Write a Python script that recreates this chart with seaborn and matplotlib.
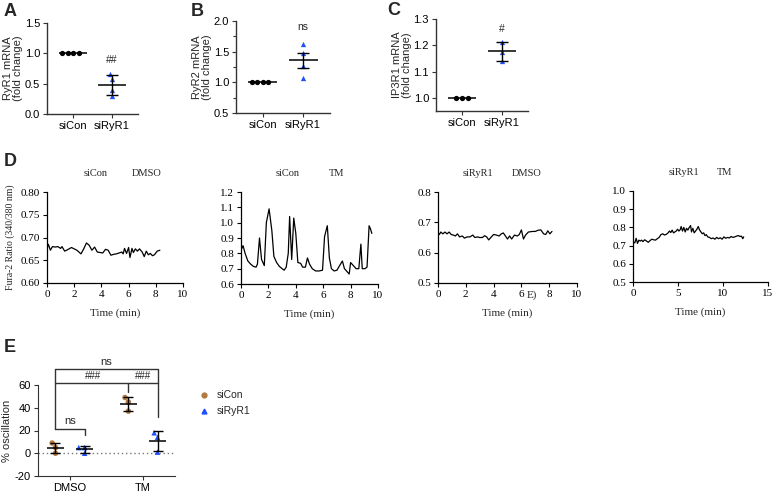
import pandas as pd
import seaborn as sns
import matplotlib.pyplot as plt
from matplotlib.lines import Line2D
from matplotlib.ticker import MultipleLocator

# ---- A-C: mRNA fold change ----
groups = ["siCon", "siRyR1"]
ryr1_sicon = [1.0, 1.0, 1.0, 1.0]
ryr1_sirna = [0.66, 0.58, 0.40, 0.30]
ryr2_sicon = [1.0, 1.0, 1.0, 1.0]
ryr2_sirna = [1.63, 1.48, 1.26, 1.07]
ip3r1_sicon = [1.0, 1.0, 1.0]
ip3r1_sirna = [1.214, 1.174, 1.142]

# ---- D: Fura-2 traces (time in min, ratio) ----
t_con_dmso = [0, 0.1, 0.25, 0.4, 0.6, 0.8, 1.0, 1.1, 1.3, 1.5, 1.8, 2.0, 2.2, 2.5, 2.7,
              2.9, 3.1, 3.3, 3.5, 3.7, 3.9, 4.1, 4.3, 4.5, 4.7, 4.9, 5.1, 5.3, 5.5, 5.6,
              5.7, 5.85, 6.0, 6.1, 6.25, 6.35, 6.5, 6.65, 6.8, 7.0, 7.15, 7.3, 7.45, 7.6,
              7.75, 7.9, 8.1, 8.3]
r_con_dmso = [0.675, 0.685, 0.672, 0.680, 0.679, 0.680, 0.676, 0.680, 0.670, 0.673, 0.678,
              0.675, 0.672, 0.664, 0.675, 0.688, 0.683, 0.672, 0.679, 0.668, 0.667, 0.666,
              0.674, 0.672, 0.661, 0.663, 0.664, 0.666, 0.668, 0.664, 0.676, 0.665, 0.678,
              0.656, 0.676, 0.667, 0.675, 0.670, 0.675, 0.668, 0.658, 0.670, 0.662, 0.665,
              0.660, 0.662, 0.670, 0.672]

t_con_tm = [0, 0.15, 0.3, 0.5, 0.7, 0.9, 1.1, 1.2, 1.35, 1.5, 1.7, 1.85, 2.05, 2.25, 2.4,
            2.6, 2.8, 3.0, 3.15, 3.3, 3.45, 3.55, 3.7, 3.85, 4.0, 4.15, 4.35, 4.5, 4.7,
            4.85, 5.0, 5.2, 5.45, 5.7, 5.95, 6.1, 6.3, 6.45, 6.6, 6.8, 7.0, 7.2, 7.4,
            7.55, 7.75, 7.9, 8.0, 8.2, 8.4, 8.6, 8.75, 8.85, 9.05, 9.2, 9.35, 9.45, 9.55]
r_con_tm = [0.82, 0.85, 0.80, 0.75, 0.73, 0.715, 0.71, 0.73, 0.90, 0.76, 0.72, 1.00, 1.09,
            0.95, 0.78, 0.74, 0.715, 0.70, 0.69, 0.71, 0.80, 1.04, 0.76, 1.03, 0.93, 0.74,
            0.735, 0.71, 0.71, 0.77, 0.73, 0.70, 0.685, 0.685, 0.69, 0.91, 0.98, 0.77,
            0.70, 0.685, 0.69, 0.72, 0.75, 0.70, 0.68, 0.665, 0.74, 0.72, 0.70, 0.70,
            0.86, 0.70, 0.70, 0.71, 0.98, 0.96, 0.93]

t_ryr_dmso = [0, 0.1, 0.2, 0.35, 0.5, 0.65, 0.8, 0.95, 1.1, 1.25, 1.4, 1.55, 1.75, 1.9,
              2.1, 2.3, 2.5, 2.65, 2.85, 3.0, 3.2, 3.35, 3.5, 3.65, 3.8, 4.0, 4.2, 4.4,
              4.55, 4.7, 4.85, 5.0, 5.15, 5.3, 5.5, 5.7, 5.85, 6.0, 6.15, 6.3, 6.5, 6.8,
              7.0, 7.2, 7.4, 7.6, 7.75, 7.9, 8.05, 8.2]
r_ryr_dmso = [0.665, 0.660, 0.668, 0.662, 0.668, 0.662, 0.668, 0.660, 0.658, 0.655, 0.662,
              0.652, 0.655, 0.648, 0.652, 0.652, 0.658, 0.650, 0.652, 0.650, 0.650, 0.656,
              0.652, 0.642, 0.650, 0.660, 0.658, 0.655, 0.662, 0.665, 0.655, 0.645, 0.655,
              0.645, 0.658, 0.655, 0.660, 0.675, 0.645, 0.658, 0.668, 0.670, 0.670, 0.674,
              0.675, 0.662, 0.660, 0.672, 0.662, 0.670]

t_ryr_tm = [0.0, 0.2, 0.35, 0.5, 0.65, 0.8, 0.95, 1.1, 1.3, 1.5, 1.7, 1.9, 2.1, 2.3, 2.5,
            2.7, 2.9, 3.1, 3.3, 3.5, 3.7, 3.9, 4.05, 4.2, 4.35, 4.5, 4.65, 4.8, 4.95, 5.1,
            5.25, 5.35, 5.5, 5.65, 5.8, 5.95, 6.1, 6.25, 6.4, 6.5, 6.65, 6.8, 6.95, 7.1,
            7.25, 7.4, 7.55, 7.7, 7.85, 8.0, 8.15, 8.3, 8.5, 8.7, 8.9, 9.1, 9.3, 9.5, 9.7,
            9.9, 10.1, 10.3, 10.5, 10.7, 10.9, 11.1, 11.3, 11.5, 11.7, 11.9, 12.05, 12.2, 12.3]
r_ryr_tm = [0.720, 0.715, 0.740, 0.712, 0.730, 0.725, 0.730, 0.722, 0.732, 0.725, 0.718,
            0.728, 0.735, 0.732, 0.730, 0.738, 0.745, 0.760, 0.765, 0.758, 0.762, 0.770,
            0.780, 0.772, 0.785, 0.770, 0.775, 0.780, 0.790, 0.780, 0.788, 0.805, 0.780,
            0.800, 0.775, 0.795, 0.785, 0.800, 0.810, 0.775, 0.795, 0.770, 0.780, 0.790,
            0.805, 0.785, 0.775, 0.765, 0.770, 0.755, 0.760, 0.748, 0.745, 0.738, 0.742,
            0.735, 0.745, 0.738, 0.743, 0.735, 0.748, 0.740, 0.745, 0.742, 0.750, 0.745,
            0.748, 0.752, 0.755, 0.750, 0.752, 0.738, 0.748]

# ---- E: % oscillation ----
treatments = ["DMSO", "TM"]
sirnas = ["siCon", "siRyR1"]
osc_sicon_dmso = [0, 5, 9]
osc_siryr1_dmso = [5, 5, 0]
osc_sicon_tm = [37, 45, 49]
osc_siryr1_tm = [1, 14, 18]

BLUE = "#1f4fff"
BROWN = "#b27b3f"
AX_COL = "#333333"
W, H = 775, 492

sns.set_style("ticks")
plt.rcParams["font.family"] = ["Liberation Sans", "DejaVu Sans"]
plt.rcParams["axes.unicode_minus"] = False
plt.rcParams["axes.edgecolor"] = AX_COL
plt.rcParams["xtick.color"] = AX_COL
plt.rcParams["ytick.color"] = AX_COL
plt.rcParams["xtick.labelcolor"] = "black"
plt.rcParams["ytick.labelcolor"] = "black"

fig = plt.figure(figsize=(W / 100, H / 100), dpi=100)


def px_axes(x0, x1, ytop, ybot):
    return fig.add_axes([x0 / W, 1 - ybot / H, (x1 - x0) / W, (ybot - ytop) / H])


def letter(x, y, s):
    fig.text(x / W, 1 - y / H, s, fontsize=13, fontweight="bold", va="top", ha="left")


def mrna_panel(ax, con, sirna, ylabel, ylim, yticks, mark, mark_y, use_sem=False):
    df = pd.DataFrame({"group": ["siCon"] * len(con) + ["siRyR1"] * len(sirna),
                       "value": con + sirna})
    sns.swarmplot(data=df[df.group == "siCon"], x="group", y="value", order=groups,
                  color="black", marker="o", size=3.8, ax=ax)
    sns.swarmplot(data=df[df.group == "siRyR1"], x="group", y="value", order=groups,
                  color=BLUE, marker="^", size=3.8, ax=ax)
    stats = df.groupby("group")["value"].agg(["mean", "std", "count"])
    for i, g in enumerate(groups):
        m = stats.loc[g, "mean"]
        err = stats.loc[g, "std"]
        if use_sem:
            err = err / stats.loc[g, "count"] ** 0.5
        ax.hlines(m, i - 0.36, i + 0.36, color="black", lw=1.1, zorder=4)
        if err > 0:
            ax.errorbar(i, m, yerr=err, color="black", lw=1.0, capsize=4.5,
                        capthick=1.0, zorder=4)
    ax.text(1, mark_y, mark, ha="center", va="center", fontsize=7.5)
    ax.set_xlim(-0.67, 1.67)
    ax.set_ylim(*ylim)
    ax.set_yticks(yticks)
    ax.set_xlabel("")
    ax.set_ylabel(ylabel, fontsize=8, labelpad=1, linespacing=1.05)
    ax.tick_params(labelsize=8, length=3, width=0.8, pad=2)
    sns.despine(ax=ax)
    for s in ax.spines.values():
        s.set_linewidth(1.0)


axA = px_axes(47, 138, 23, 114)
mrna_panel(axA, ryr1_sicon, ryr1_sirna, "RyR1 mRNA\n(fold change)", (0, 1.5),
           [0.0, 0.5, 1.0, 1.5], "##", 0.89)
axB = px_axes(236, 330, 21, 113)
mrna_panel(axB, ryr2_sicon, ryr2_sirna, "RyR2 mRNA\n(fold change)", (0.5, 2.0),
           [0.5, 1.0, 1.5, 2.0], "ns", 1.90, use_sem=True)
axB.yaxis.set_minor_locator(MultipleLocator(0.25))
axB.tick_params(which="minor", length=2, width=0.8)
axC = px_axes(436, 528, 19, 111)
mrna_panel(axC, ip3r1_sicon, ip3r1_sirna, "IP3R1 mRNA\n(fold change)", (0.95, 1.3),
           [1.0, 1.1, 1.2, 1.3], "#", 1.262)
axC.set_xlim(-0.65, 1.65)

letter(4, 3, "A")
letter(191, 3, "B")
letter(387, 2, "C")

# ---- D ----
SERIF = "Liberation Serif"
traces = [
    (t_con_dmso, r_con_dmso, (47, 183, 192, 283), (0.6, 0.8), [0.6, 0.65, 0.7, 0.75, 0.8],
     "%.2f", (0, 10), [0, 2, 4, 6, 8, 10], ("siCon", "DMSO"), (0.36, 0.73)),
    (t_con_tm, r_con_tm, (241, 378, 192, 284), (0.6, 1.2), [0.6, 0.7, 0.8, 0.9, 1.0, 1.1, 1.2],
     "%.1f", (0, 10), [0, 2, 4, 6, 8, 10], ("siCon", "TM"), (0.34, 0.70)),
    (t_ryr_dmso, r_ryr_dmso, (438, 577, 192, 283), (0.5, 0.8), [0.5, 0.6, 0.7, 0.8],
     "%.1f", (0, 10), [0, 2, 4, 6, 8, 10], ("siRyR1", "DMSO"), (0.29, 0.64)),
    (t_ryr_tm, r_ryr_tm, (633, 768, 191, 282), (0.5, 1.0), [0.5, 0.6, 0.7, 0.8, 0.9, 1.0],
     "%.1f", (0, 15), [0, 5, 10, 15], ("siRyR1", "TM"), (0.38, 0.68)),
]
for k, (t, r, box, ylim, yt, fmt, xlim, xt, title, tpos) in enumerate(traces):
    ax = px_axes(*box)
    sns.lineplot(x=t, y=r, color="black", lw=0.9, estimator=None, ax=ax)
    ax.set_xlim(*xlim)
    ax.set_ylim(*ylim)
    ax.set_xticks(xt)
    ax.set_yticks(yt)
    ax.set_yticklabels([fmt % v for v in yt])
    ax.tick_params(labelsize=8, length=3, width=0.8, pad=2, colors="black",
                   labelfontfamily=SERIF)
    for s in ax.spines.values():
        s.set_color("black")
        s.set_linewidth(0.9)
    sns.despine(ax=ax)
    ax.set_xlabel("Time (min)", fontsize=8, fontfamily=SERIF, labelpad=7)
    if k == 0:
        ax.set_ylabel("Fura-2 Ratio (340/380 nm)", fontsize=7, fontfamily=SERIF,
                      labelpad=4)
    for word, xp in zip(title, tpos):
        ax.text(xp, 1.2, word, transform=ax.transAxes, ha="center", va="center",
                fontsize=7.5, fontfamily=SERIF)

fig.text(532 / W, 1 - 295 / H, "E)", fontsize=8, fontfamily=SERIF, ha="center",
         va="center")
letter(4, 153, "D")

# ---- E ----
dfE = pd.DataFrame({
    "treatment": ["DMSO"] * 6 + ["TM"] * 6,
    "siRNA": (["siCon"] * 3 + ["siRyR1"] * 3) * 2,
    "value": osc_sicon_dmso + osc_siryr1_dmso + osc_sicon_tm + osc_siryr1_tm,
})
pal = {"siCon": BROWN, "siRyR1": BLUE}
axE = px_axes(38, 175, 385, 476)
axE.axhline(0, color="#777777", lw=1.0, ls=(0, (1, 2)), zorder=0)
sns.swarmplot(data=dfE[dfE.siRNA == "siCon"], x="treatment", y="value", hue="siRNA",
              order=treatments, hue_order=sirnas, palette=pal, dodge=True, marker="o",
              size=4, legend=False, ax=axE)
sns.swarmplot(data=dfE[dfE.siRNA == "siRyR1"], x="treatment", y="value", hue="siRNA",
              order=treatments, hue_order=sirnas, palette=pal, dodge=True, marker="^",
              size=4, legend=False, ax=axE)
statsE = dfE.groupby(["treatment", "siRNA"])["value"].agg(["mean", "std"])
offs = {"siCon": -0.2, "siRyR1": 0.2}
for i, tr in enumerate(treatments):
    for s in sirnas:
        xc = i + offs[s]
        m, sd = statsE.loc[(tr, s), "mean"], statsE.loc[(tr, s), "std"]
        axE.hlines(m, xc - 0.12, xc + 0.12, color="black", lw=1.1, zorder=4)
        axE.errorbar(xc, m, yerr=sd, color="black", lw=1.0, capsize=3.8, capthick=1.0,
                     zorder=4)

# significance brackets
x_cd, x_rd, x_ct, x_rt = -0.2, 0.2, 0.8, 1.2
bk = dict(color=AX_COL, lw=1.0, clip_on=False)
axE.plot([x_cd, x_cd, x_rt, x_rt], [21, 74, 74, 32], **bk)
axE.plot([x_cd, x_rt], [62, 62], **bk)
axE.plot([x_ct, x_ct], [62, 54], **bk)
axE.plot([x_cd, x_rd, x_rd], [21, 21, 16], **bk)
axE.text(0.5, 80.5, "ns", ha="center", va="center", fontsize=8)
axE.text(0.32, 67.5, "###", ha="center", va="center", fontsize=7)
axE.text(1.0, 67.5, "###", ha="center", va="center", fontsize=7)
axE.text(0.0, 28.5, "ns", ha="center", va="center", fontsize=8)

axE.set_xlim(-0.44, 1.44)
axE.set_ylim(-20, 60)
axE.set_yticks([-20, 0, 20, 40, 60])
axE.set_xlabel("")
axE.set_ylabel("% oscillation", fontsize=8, labelpad=2)
axE.tick_params(labelsize=8, length=3, width=0.8, pad=2)
sns.despine(ax=axE)

handles = [Line2D([], [], marker="o", ls="", color=BROWN, markersize=3.5, label="siCon"),
           Line2D([], [], marker="^", ls="", color=BLUE, markersize=3.5, label="siRyR1")]
axE.legend(handles=handles, loc="upper left", bbox_to_anchor=(195 / W, 1 - 385 / H),
           bbox_transform=fig.transFigure, frameon=False, fontsize=7.5, handlelength=0.8,
           handletextpad=0.8, labelspacing=0.6, borderpad=0)
letter(4, 339, "E")

fig.savefig("out.png", dpi=100)
